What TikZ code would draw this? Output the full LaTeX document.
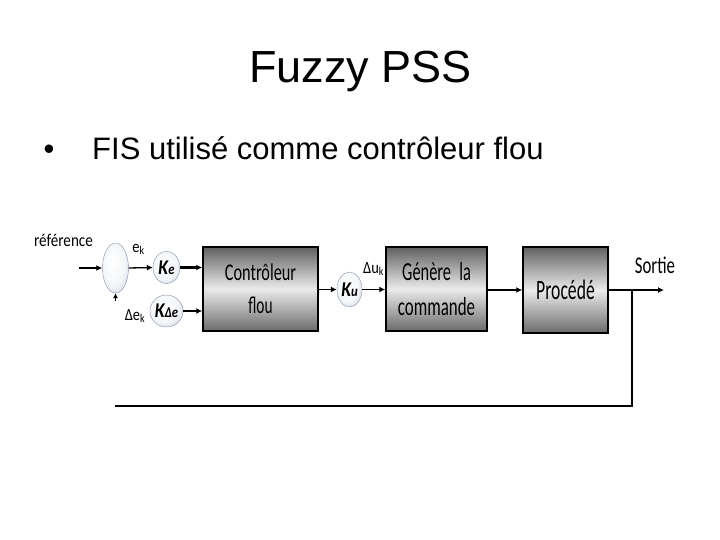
\documentclass[tikz,border=0pt]{standalone}
\usepackage{fontspec}
\usepackage{graphicx}
\setmainfont{Liberation Sans}
\newfontfamily\cf{Carlito}
\usetikzlibrary{arrows.meta,shapes.geometric}
\definecolor{ellEdge}{HTML}{A2AEC6}
\pgfdeclareradialshading{ellsh}{\pgfpoint{-6bp}{6bp}}{color(0bp)=(white); color(22bp)=(white!88!ellEdge); color(48bp)=(ellEdge); color(70bp)=(ellEdge)}
\newcommand\sq[3]{\scalebox{#1}[1]{\fontsize{#2}{#2}\selectfont\cf #3}}
\newcommand\kgain[1]{\scalebox{0.85}[1]{\cf\bfseries\itshape\fontsize{21}{21}\selectfont K\fontsize{15}{15}\selectfont #1}}
\tikzset{
  blockbox/.style={draw=black, line width=1.5pt, top color=black!62, bottom color=black!58, middle color=white!92!black, inner sep=0pt, align=center, font=\fontsize{24}{33}\selectfont},
  gainell/.style={ellipse, draw=ellEdge!85!black, line width=0.4pt, shading=ellsh, inner sep=0pt},
  conn/.style={draw=black, line width=1.3pt, -{Latex[length=6pt,width=6pt]}},
  thickconn/.style={draw=black, line width=2.6pt, -{Latex[length=6pt,width=6pt]}},
  lbl/.style={inner sep=0pt},
}
\begin{document}
\begin{tikzpicture}[x=1pt,y=-1pt]
\useasboundingbox (0,0) rectangle (720,540);
\fill[white] (0,0) rectangle (720,540);
% titles
\node[lbl, anchor=base, font=\fontsize{45}{45}\selectfont] (title) at (360.5,83) {Fuzzy PSS};
\node[lbl, anchor=base, font=\fontsize{31}{31}\selectfont] (bullet) at (49,160) {•};
\node[lbl, anchor=base west, font=\fontsize{31}{31}\selectfont] (btext) at (92,160) {FIS utilisé comme contrôleur flou};

% blocks
\node[blockbox, minimum width=115pt, minimum height=84pt] (ctrl) at (260.5,289) {\sq{0.68}{24}{Contrôleur}\\\sq{0.64}{24}{flou}};
\node[blockbox, minimum width=101pt, minimum height=84pt, font=\fontsize{26}{35}\selectfont] (gen) at (436.5,289) {\sq{0.63}{26}{Génère\enspace la}\\\sq{0.65}{26}{commande}};
\node[blockbox, minimum width=85pt, minimum height=86pt] (proc) at (565.5,290) {\sq{0.63}{28}{Procédé}};

% ellipses
\node[gainell, minimum width=26pt, minimum height=50pt] (sum) at (115.5,268) {};
\node[gainell, minimum width=27pt, minimum height=32pt] (Ke) at (166.5,267.5) {\kgain{e}};
\node[gainell, minimum width=27pt, minimum height=32pt] (KDe) at (166.5,311) {\kgain{Δe}};
\node[gainell, minimum width=25pt, minimum height=35pt] (Ku) at (349.5,289.5) {\kgain{u}};

% labels
\node[lbl, anchor=base] (ref) at (63.5,247) {\sq{0.84}{18}{référence}};
\node[lbl, anchor=base] (ek) at (138.5,252) {\sq{0.85}{17}{e\textsubscript{k}}};
\node[lbl, anchor=base] (dek) at (135,320) {\sq{0.85}{17}{Δe\textsubscript{k}}};
\node[lbl, anchor=base] (duk) at (373.5,273) {\sq{0.85}{17}{Δu\textsubscript{k}}};
\node[lbl, anchor=base] (sortie) at (655,273) {\sq{0.7}{24}{Sortie}};

% coordinates
\coordinate (in) at (79,268);
\coordinate (stub) at (115.5,301);
\coordinate (out) at (664,290);
\coordinate (br) at (632,290);
\coordinate (fbend) at (115,406);

% connectors
\draw[conn] (in) -- (sum.west);
\draw[draw=black, line width=0.8pt, -{Latex[length=5pt,width=5pt]}] (stub) -- (sum.south);
\draw[conn] (sum.east) -- (Ke.west);
\draw[thickconn] (Ke.east) -- (ctrl.west |- Ke.east);
\draw[conn] (KDe.east) -- (ctrl.west |- KDe.east);
\draw[conn] (ctrl.east |- Ku.west) -- (Ku.west);
\draw[conn] (Ku.east) -- (gen.west |- Ku.east);
\draw[conn] (gen.east |- proc.west) -- (proc.west);
\draw[thickconn] (proc.east) -- (out);
\draw[draw=black, line width=1.5pt] (br) |- (fbend);
\end{tikzpicture}
\end{document}
